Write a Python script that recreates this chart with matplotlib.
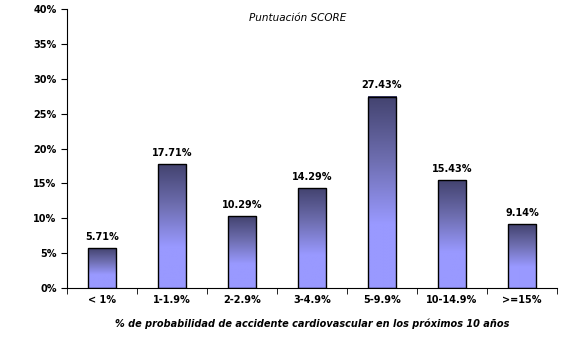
import numpy as np
import matplotlib.pyplot as plt
from matplotlib.colors import LinearSegmentedColormap
from matplotlib.ticker import MultipleLocator, FuncFormatter

categories = ['< 1%', '1-1.9%', '2-2.9%', '3-4.9%', '5-9.9%', '10-14.9%', '>=15%']
values = [5.71, 17.71, 10.29, 14.29, 27.43, 15.43, 9.14]

fig = plt.figure(figsize=(5.62, 3.40), dpi=100)
ax = fig.add_axes([0.1192, 0.1529, 0.8719, 0.8206])

# dark at the top of each bar, light lilac at the base
cmap = LinearSegmentedColormap.from_list('score', ['#43436f', '#6e6eb0', '#9999ff', '#9999ff'])
grad = np.linspace(0, 1, 256).reshape(-1, 1)

x = np.arange(len(categories))
width = 0.41
bars = ax.bar(x, values, width=width, facecolor='none', edgecolor='black', linewidth=1.0, zorder=3)
for b, v in zip(bars, values):
    x0 = b.get_x()
    ax.imshow(grad, cmap=cmap, aspect='auto', extent=(x0, x0 + width, 0, v),
              origin='upper', zorder=2)
    ax.text(b.get_x() + width / 2, v + 0.9, f'{v:.2f}%', ha='center', va='bottom',
            fontsize=7, fontweight='bold')

ax.set_xlim(-0.5, len(categories) - 0.5)
ax.set_ylim(0, 40)
ax.yaxis.set_major_locator(MultipleLocator(5))
ax.yaxis.set_major_formatter(FuncFormatter(lambda v, p: f'{v:.0f}%'))
ax.set_xticks(x)
ax.set_xticklabels(categories)
ax.set_xticks(np.arange(-0.5, len(categories)), minor=True)
ax.tick_params(axis='x', which='major', length=0, pad=5, labelsize=7)
ax.tick_params(axis='x', which='minor', length=4, direction='out')
ax.tick_params(axis='y', length=4, direction='out', labelsize=7)
for lbl in ax.get_xticklabels() + ax.get_yticklabels():
    lbl.set_fontweight('bold')

for s in ['top', 'right']:
    ax.spines[s].set_visible(False)

ax.set_xlabel('% de probabilidad de accidente cardiovascular en los próximos 10 años',
              fontsize=7, fontweight='bold', style='italic', labelpad=10)
ax.text(0.47, 0.985, 'Puntuación SCORE', transform=ax.transAxes, ha='center', va='top',
        fontsize=7.5, style='italic')

fig.savefig('out.png', dpi=100)
